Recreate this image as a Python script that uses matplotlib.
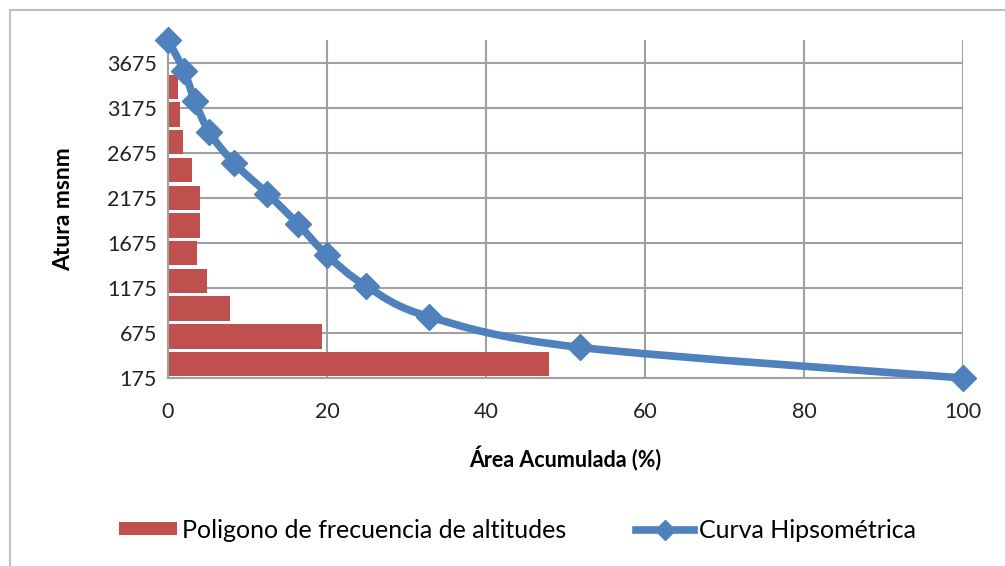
import numpy as np
import matplotlib.pyplot as plt
from matplotlib.path import Path
from matplotlib.patches import PathPatch, Patch
from matplotlib.lines import Line2D

# ── Data ──────────────────────────────────────────────────────────────────────
# hypsometric curve: cumulative area (%) vs elevation (m a.s.l.)
curve_area = [0.0, 2.0, 3.4, 5.2, 8.3, 12.5, 16.4, 20.0, 24.9, 32.8, 51.8, 100.0]
curve_elev = [3925, 3584, 3243, 2902, 2561, 2220, 1879, 1538, 1197, 856, 515, 175]

# frequency polygon: % of area per elevation band (bottom -> top)
band_pct = [47.9, 19.4, 7.8, 4.9, 3.6, 4.0, 4.0, 3.0, 1.9, 1.5, 1.3]

y_ticks = [175, 675, 1175, 1675, 2175, 2675, 3175, 3675]
x_ticks = [0, 20, 40, 60, 80, 100]

RED = '#C0504D'
BLUE = '#4F81BD'
GRID = '#A0A0A0'

plt.rcParams['font.family'] = ['Lato', 'DejaVu Sans']


def smooth_path(xs, ys, tension=1 / 6):
    """Excel-like smoothed line: Catmull-Rom segments as cubic Bezier path."""
    pts = np.column_stack([xs, ys]).astype(float)
    verts = [pts[0]]
    codes = [Path.MOVETO]
    n = len(pts)
    for i in range(n - 1):
        p0 = pts[max(i - 1, 0)]
        p1 = pts[i]
        p2 = pts[i + 1]
        p3 = pts[min(i + 2, n - 1)]
        c1 = p1 + (p2 - p0) * tension
        c2 = p2 - (p3 - p1) * tension
        verts += [c1, c2, p2]
        codes += [Path.CURVE4] * 3
    return Path(verts, codes)


fig = plt.figure(figsize=(10.05, 5.66), dpi=100)
ax = fig.add_axes([168 / 1005, 1 - 378 / 566, (963 - 168) / 1005, (378 - 40) / 566])

# ── Bars ──────────────────────────────────────────────────────────────────────
edges = np.linspace(175, 3560, len(band_pct) + 1)
pitch = edges[1] - edges[0]
centers = edges[:-1] + pitch / 2
ax.barh(centers, band_pct, height=pitch * 0.88, color=RED, zorder=2)

# ── Curve ─────────────────────────────────────────────────────────────────────
# smoothing done in screen space so the shape is not distorted by axis scaling
ax.set_xlim(0, 100)
ax.set_ylim(175, 3925)
fig.canvas.draw()
disp = ax.transData.transform(np.column_stack([curve_area, curve_elev]))
path = smooth_path(disp[:, 0], disp[:, 1])
ax.add_patch(PathPatch(path, transform=None, facecolor='none', edgecolor=BLUE,
                       lw=5.5, zorder=3, clip_on=False, capstyle='round'))
ax.plot(curve_area, curve_elev, linestyle='none', marker='D', markersize=13.5,
        color=BLUE, zorder=4, clip_on=False)

# ── Axes styling ──────────────────────────────────────────────────────────────
ax.set_xticks(x_ticks)
ax.set_yticks(y_ticks)
ax.tick_params(length=0, labelsize=15.5, colors='#222222', pad=8)
ax.tick_params(axis='x', pad=17)
ax.grid(True, color=GRID, lw=1.5, zorder=0)
ax.set_axisbelow(True)
for side in ['top', 'right']:
    ax.spines[side].set_visible(False)
for side in ['left', 'bottom']:
    ax.spines[side].set_color(GRID)
    ax.spines[side].set_linewidth(1.5)

ax.set_ylabel('Atura msnm', fontsize=16.5, fontweight='bold', labelpad=24)
ax.set_xlabel('Área Acumulada (%)', fontsize=15.5, fontweight='bold', labelpad=18)

handles = [
    Patch(facecolor=RED, edgecolor='none'),
    Line2D([0], [0], color=BLUE, lw=5.5, marker='D', markersize=10),
]
fig.legend(handles, ['Poligono de frecuencia de altitudes', 'Curva Hipsométrica'],
           loc='center', bbox_to_anchor=(0.515, 1 - 530 / 566), ncol=2, frameon=False,
           fontsize=18, handlelength=2.3, handletextpad=0.2, columnspacing=2.8,
           handleheight=0.42)

# outer chart frame
fig.add_artist(Line2D([10 / 1005, 10 / 1005], [0, 1 - 10 / 566], color='#BFBFBF', lw=1.5))
fig.add_artist(Line2D([10 / 1005, 1], [1 - 10 / 566, 1 - 10 / 566], color='#BFBFBF', lw=1.5))

fig.savefig('out.png', dpi=100)
